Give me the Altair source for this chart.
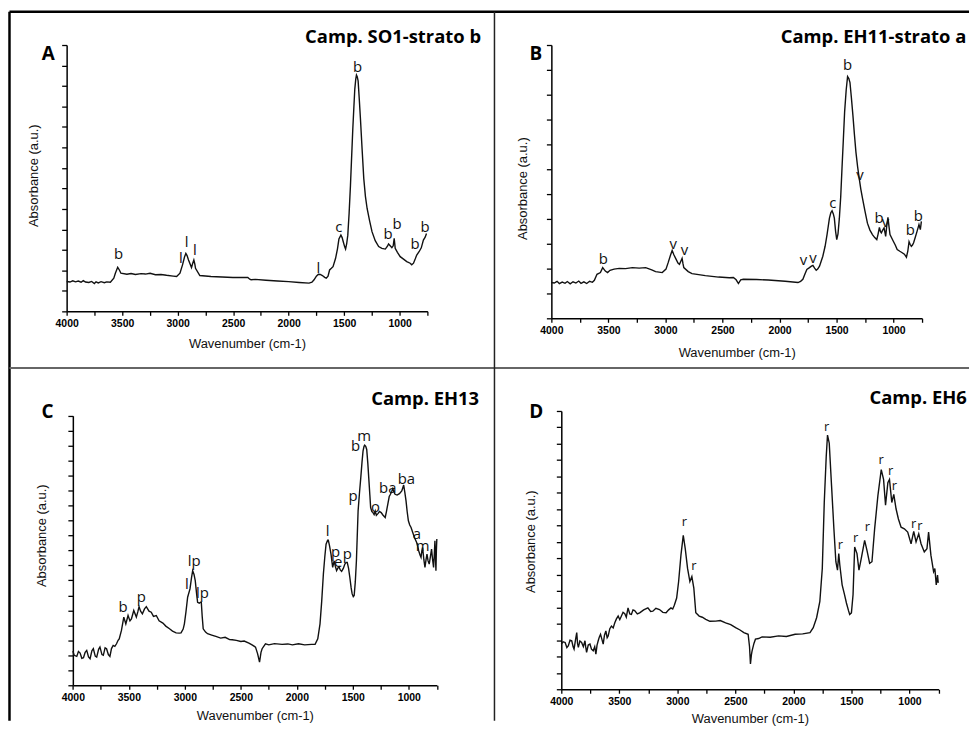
import altair as alt
import pandas as pd

# ---------------- data ----------------
XTICKS = [4000, 3750, 3500, 3250, 3000, 2750, 2500, 2250, 2000, 1750, 1500, 1250, 1000, 750]

A_wn = [4000,3970,3945,3920,3895,3870,3850,3830,3800,3775,3750,3735,3715,3690,3660,3640,3606,3575,3561,3540,3525,3511,3457,3420,3380,3330,3290,3248,3200,3150,3100,3040,3009,2979,2956,2938,2926,2915,2902,2875,2864,2854,2845,2839,2800,2700,2600,2502,2420,2368,2350,2338,2300,2204,2100,2000,1905,1816,1790,1771,1750,1732,1715,1696,1675,1661,1645,1631,1615,1600,1577,1560,1547,1529,1518,1508,1495,1487,1477,1467,1455,1443,1432,1422,1412,1404,1395,1389,1382,1374,1363,1353,1338,1323,1308,1293,1270,1249,1220,1189,1160,1129,1110,1100,1085,1070,1058,1049,1044,1040,1020,995,965,936,905,891,875,860,846,825,805,786,770,758]
A_ab = [1.46,1.43,1.49,1.44,1.48,1.42,1.50,1.43,1.41,1.46,1.36,1.44,1.39,1.45,1.40,1.44,1.42,1.62,1.86,2.15,2.02,1.86,1.81,1.85,1.80,1.84,1.82,1.86,1.79,1.80,1.76,1.72,1.70,1.86,2.27,2.65,2.83,2.72,2.51,2.14,2.35,2.51,2.30,2.10,1.75,1.70,1.68,1.65,1.66,1.65,1.57,1.54,1.56,1.52,1.48,1.45,1.41,1.38,1.42,1.54,1.72,1.81,1.80,1.75,1.66,1.62,1.72,2.02,2.10,2.18,2.59,3.05,3.53,3.72,3.60,3.40,3.15,3.04,3.30,3.72,4.80,6.15,7.60,8.90,10.0,10.85,11.35,11.53,11.45,11.25,10.30,9.39,7.90,6.48,5.60,5.02,4.40,3.89,3.45,3.16,3.07,3.04,3.18,3.29,3.20,3.11,3.20,3.56,3.30,3.08,2.88,2.67,2.55,2.43,2.35,2.27,2.35,2.55,2.75,2.91,3.10,3.48,3.62,3.80]
A_lab = ["b", "l", "l", "l", "l", "c", "b", "b", "b", "b", "b"]
A_lab_wn = [3532, 2971, 2920, 2845, 1732, 1547, 1380, 1105, 1023, 860, 771]
A_lab_y = [2.80, 2.59, 3.37, 3.00, 2.10, 4.10, 11.93, 3.77, 4.24, 3.27, 4.10]

B_wn = [4000,3975,3950,3930,3905,3880,3860,3835,3810,3785,3760,3740,3715,3690,3665,3640,3623,3600,3570,3550,3527,3507,3486,3450,3405,3350,3289,3230,3173,3120,3086,3028,2995,2976,2955,2941,2925,2906,2890,2877,2865,2854,2846,2839,2800,2767,2650,2534,2440,2404,2380,2360,2340,2317,2200,2099,1950,1838,1815,1795,1775,1760,1737,1720,1707,1692,1678,1665,1649,1620,1600,1583,1562,1550,1539,1528,1519,1508,1498,1487,1475,1463,1452,1440,1429,1415,1403,1392,1382,1370,1356,1343,1330,1315,1301,1287,1272,1250,1229,1207,1185,1165,1147,1135,1124,1115,1107,1095,1083,1075,1069,1060,1049,1040,1031,1002,985,968,945,924,905,887,875,864,855,844,834,824,810,794,777,765,756]
B_ab = [1.44,1.42,1.49,1.40,1.46,1.41,1.48,1.39,1.47,1.42,1.50,1.41,1.47,1.40,1.49,1.45,1.53,1.77,1.84,2.04,1.90,1.84,1.93,1.98,2.01,2.00,2.04,2.02,2.04,1.95,1.88,1.84,1.98,2.24,2.55,2.73,2.55,2.37,2.22,2.17,2.30,2.41,2.20,2.04,1.88,1.80,1.72,1.66,1.63,1.64,1.55,1.40,1.55,1.57,1.56,1.54,1.49,1.44,1.49,1.57,1.80,1.97,2.04,2.10,2.13,2.02,1.93,1.98,2.10,2.50,2.90,3.37,4.03,4.25,4.33,4.20,4.03,3.50,3.17,3.40,4.03,4.90,6.03,7.20,8.30,9.20,9.73,9.65,9.49,8.90,8.16,7.40,6.70,6.10,5.63,5.20,4.83,4.30,3.83,3.55,3.37,3.25,3.17,3.40,3.66,3.50,3.44,3.55,3.64,3.45,3.30,3.70,4.06,3.70,3.37,3.10,2.95,2.77,2.70,2.64,2.58,2.46,2.70,3.08,2.98,2.90,2.95,3.04,3.25,3.50,3.77,3.57,3.90]
B_lab = ["b", "v", "v", "v", "v", "c", "b", "v", "b", "v", "b", "b"]
B_lab_wn = [3544, 2932, 2833, 1789, 1707, 1533, 1403, 1295, 1128, 1070, 854, 783]
B_lab_y = [2.37, 3.00, 2.73, 2.33, 2.41, 4.63, 10.19, 5.77, 4.03, 3.87, 3.57, 4.13]

C_wn = [4000,3988,3965,3950,3935,3920,3905,3890,3876,3860,3846,3830,3817,3800,3787,3770,3758,3740,3728,3712,3699,3683,3669,3655,3640,3625,3610,3596,3586,3566,3545,3527,3507,3490,3477,3456,3433,3420,3409,3395,3379,3360,3344,3320,3300,3280,3255,3230,3196,3170,3137,3110,3078,3050,3034,3015,3004,2990,2975,2954,2940,2930,2918,2907,2895,2886,2871,2860,2853,2845,2836,2815,2797,2760,2723,2680,2640,2600,2576,2540,2500,2470,2428,2400,2369,2350,2333,2320,2310,2280,2250,2200,2132,2080,2040,1985,1930,1870,1837,1813,1793,1778,1763,1750,1739,1725,1719,1708,1695,1680,1667,1655,1645,1635,1624,1612,1600,1585,1571,1560,1550,1538,1527,1515,1506,1496,1488,1478,1468,1453,1440,1429,1418,1409,1400,1394,1385,1376,1366,1358,1348,1341,1330,1320,1310,1300,1290,1276,1262,1247,1230,1211,1200,1188,1175,1164,1152,1143,1133,1123,1105,1084,1063,1053,1046,1036,1025,1015,1004,992,980,965,950,940,930,921,912,900,891,884,877,866,856,846,838,828,818,807,797,788,779,772,767,762,758,754,750]
C_ab = [2.28,2.00,1.93,2.25,2.15,1.80,1.84,2.20,2.33,1.90,1.77,2.30,2.44,1.95,1.88,2.40,2.55,2.05,2.00,2.50,2.44,2.05,1.93,2.45,2.66,2.60,2.77,3.00,3.10,3.66,4.55,4.10,4.66,4.30,4.43,4.99,4.55,4.90,5.25,4.95,4.77,5.10,5.25,4.95,4.88,4.60,4.66,4.30,4.15,3.95,3.77,3.62,3.50,3.48,3.50,3.75,4.10,4.90,5.88,6.43,7.20,7.65,7.40,6.98,6.10,5.54,5.48,5.55,5.54,4.60,3.77,3.55,3.44,3.35,3.26,3.15,3.20,3.05,3.04,3.00,2.92,2.95,2.82,2.70,2.55,2.10,1.55,2.20,2.44,2.77,2.70,2.78,2.73,2.76,2.70,2.77,2.70,2.73,2.73,3.10,4.10,5.60,7.43,8.60,9.42,9.69,9.69,9.30,8.76,7.87,8.31,7.90,7.65,7.80,7.92,7.70,7.60,7.80,8.09,8.20,8.20,7.80,7.21,6.50,6.10,5.92,5.99,6.90,8.31,11.64,12.90,13.86,14.90,15.63,15.95,16.03,15.95,15.74,14.80,13.86,12.70,11.86,11.60,11.53,11.40,11.64,11.35,11.46,11.60,11.53,11.35,11.20,11.60,12.08,12.60,12.75,12.95,13.13,12.90,12.75,12.70,12.79,12.97,13.20,13.37,12.90,12.31,11.60,10.98,10.70,10.53,10.20,9.87,9.70,9.53,9.30,8.98,8.70,8.54,8.95,9.20,8.40,7.87,8.40,8.76,8.30,8.09,8.60,9.09,8.40,7.87,8.80,9.65,8.50,7.65,9.00,9.76]
C_lab = ["b", "p", "l", "lp", "lp", "l", "p", "e", "p", "p", "b", "m", "o", "ba", "ba", "a", "m"]
C_lab_wn = [3551, 3388, 2981, 2916, 2842, 1725, 1654, 1630, 1550, 1497, 1476, 1400, 1297, 1188, 1022, 927, 877]
C_lab_y = [5.25, 5.92, 6.76, 8.27, 6.14, 10.31, 8.87, 8.20, 8.76, 12.64, 15.96, 16.63, 11.91, 13.19, 13.79, 10.09, 9.31]

D_wn = [4000,3985,3967,3952,3939,3925,3910,3898,3890,3878,3867,3860,3853,3840,3825,3810,3796,3790,3782,3768,3753,3740,3725,3712,3702,3692,3682,3672,3662,3650,3639,3628,3616,3605,3596,3582,3568,3553,3539,3525,3510,3496,3482,3468,3453,3440,3425,3410,3396,3382,3368,3345,3325,3290,3254,3230,3211,3185,3154,3125,3097,3075,3055,3040,3026,3006,2989,2969,2949,2932,2912,2892,2875,2858,2841,2812,2785,2755,2720,2669,2630,2584,2540,2498,2460,2427,2390,2378,2370,2362,2356,2340,2327,2300,2270,2200,2128,2060,1985,1920,1857,1829,1800,1772,1751,1734,1717,1706,1691,1671,1651,1634,1620,1609,1600,1580,1560,1543,1525,1515,1500,1486,1472,1452,1435,1415,1386,1366,1343,1323,1300,1272,1243,1223,1206,1186,1172,1152,1135,1115,1095,1072,1044,1015,986,963,943,920,900,872,849,835,815,792,781,769,758,752]
D_ab = [2.76,2.90,2.86,2.55,2.66,3.00,2.96,2.60,2.45,3.00,3.46,2.80,2.56,2.95,2.86,2.60,2.96,2.60,2.25,2.70,2.76,2.45,2.35,2.60,2.15,2.70,2.96,3.20,3.36,3.05,2.76,3.30,3.56,3.15,3.26,3.70,3.86,3.75,4.06,4.30,4.47,4.25,4.47,4.70,4.61,4.40,4.97,4.60,4.57,4.85,4.81,4.60,4.67,4.85,4.97,4.75,4.77,4.95,4.87,4.70,4.67,4.85,4.97,4.90,5.13,5.57,6.58,8.19,9.40,8.59,7.38,6.58,6.88,6.18,4.67,4.47,4.40,4.27,4.15,4.16,4.20,4.06,3.95,3.76,3.62,3.46,3.36,2.60,1.55,2.10,2.35,2.80,3.06,3.10,3.20,3.18,3.26,3.22,3.36,3.38,3.46,3.76,4.37,5.37,7.38,11.41,14.23,15.53,15.03,12.41,9.80,7.79,7.28,8.29,7.59,6.38,5.80,5.27,4.80,4.57,4.67,5.77,8.69,8.29,7.28,7.99,9.09,8.49,7.69,7.79,9.80,11.81,13.42,12.82,11.25,12.62,12.82,11.41,11.91,11.01,10.40,9.90,9.80,9.60,8.89,9.64,9.00,9.50,8.89,8.39,8.59,9.60,8.19,7.18,7.38,6.38,6.98,6.50]
D_lab = ["r", "r", "r", "r", "r", "r", "r", "r", "r", "r", "r"]
D_lab_wn = [2940, 2858, 1714, 1594, 1463, 1363, 1243, 1163, 1129, 963, 909]
D_lab_y = [10.24, 7.53, 16.0, 8.79, 9.24, 9.90, 13.98, 13.32, 12.41, 10.10, 10.0]

TITLES = ["Camp. SO1-strato b", "Camp. EH11-strato a", "Camp. EH13", "Camp. EH6"]
LETTERS = ["A", "B", "C", "D"]

AXFONT = "Liberation Sans"
LABFONT = "Open Sans"
ONE = pd.DataFrame({"k": [0]})


def panel(wn, ab, ltxt, lwn, ly, ymax, w, h, xr, yr, yoff,
          ytp, yty, xtp, labsize, letter, letpos, title, titlepos, extra=None):
    xs = alt.Scale(domain=[4000, 750], range=xr, nice=False, zero=False)
    ys = alt.Scale(domain=[0, ymax], range=yr, nice=False, zero=False)
    xax = alt.Axis(values=XTICKS, tickCount=60, format="d",
                   labelExpr="datum.value % 500 === 0 ? datum.label : ''",
                   labelFont=AXFONT, labelFontWeight="bold", labelFontSize=10.5,
                   labelColor="#000", labelPadding=3, labelFlush=False, labelOverlap=False,
                   tickSize=4, tickWidth=1.3, tickColor="#000", domainColor="#000",
                   domainWidth=1.5, grid=False, title="Wavenumber (cm-1)", titleFont=AXFONT,
                   titleFontSize=13, titleFontWeight="normal", titleColor="#111",
                   titlePadding=xtp)
    yax = alt.Axis(values=list(range(0, ymax + 1)), tickCount=60, labels=False, tickSize=5,
                   tickWidth=1.3, tickColor="#000", domainColor="#000", domainWidth=1.5,
                   grid=False, offset=yoff, title="Absorbance (a.u.)", titleFont=AXFONT,
                   titleFontSize=13, titleFontWeight="normal", titleColor="#111",
                   titlePadding=ytp, titleY=yty)
    df = pd.DataFrame({"wn": wn, "ab": ab})
    line = alt.Chart(df).mark_line(color="#111", strokeWidth=1.4).encode(
        x=alt.X("wn:Q", scale=xs, axis=xax),
        y=alt.Y("ab:Q", scale=ys, axis=yax))
    ldf = pd.DataFrame({"t": ltxt, "wn": lwn, "ab": ly})
    labs = alt.Chart(ldf).mark_text(font=LABFONT, fontSize=labsize, color="#111",
                                    baseline="middle", align="center").encode(
        x=alt.X("wn:Q", scale=xs), y=alt.Y("ab:Q", scale=ys), text="t:N")
    let = alt.Chart(ONE).mark_text(text=letter, font=LABFONT, fontSize=19,
                                   fontWeight="bold", color="#000", align="center",
                                   baseline="alphabetic").encode(
        x=alt.value(letpos[0]), y=alt.value(letpos[1]))
    tit = alt.Chart(ONE).mark_text(text=title, font=LABFONT, fontSize=18.5,
                                   fontWeight="bold", color="#000", align="right",
                                   baseline="alphabetic").encode(
        x=alt.value(titlepos[0]), y=alt.value(titlepos[1]))
    layers = [line, labs, let, tit]
    if extra:
        layers += extra
    return alt.layer(*layers).properties(width=w, height=h)


# frame lines (page-level decoration) drawn in panel A's coordinates
frame = [
    alt.Chart(ONE).mark_rule(color="#000", strokeWidth=2.5).encode(
        x=alt.value(-57.5), x2=alt.value(908), y=alt.value(-33.5)),
    alt.Chart(ONE).mark_rule(color="#000", strokeWidth=2.5).encode(
        x=alt.value(-57.5), y=alt.value(-33.5), y2=alt.value(680)),
    alt.Chart(ONE).mark_rule(color="#666", strokeWidth=2).encode(
        x=alt.value(-57.5), x2=alt.value(908), y=alt.value(325)),
    alt.Chart(ONE).mark_rule(color="#222", strokeWidth=1.5).encode(
        x=alt.value(430.5), y=alt.value(-33.5), y2=alt.value(680)),
]

pA = panel(A_wn, A_ab, A_lab, A_lab_wn, A_lab_y, 13, 363, 268, [0, 363], [268, 0], 0,
           21, 131, 9, 15, LETTERS[0], (-18.5, 15.5), TITLES[0], (417, -2), extra=frame)
pB = panel(B_wn, B_ab, B_lab, B_lab_wn, B_lab_y, 11, 373, 275, [0, 373], [275, 0], 0,
           16, 144, 11, 15, LETTERS[1], (-15.7, 15.5), TITLES[1], (417.5, -2))
pC = panel(C_wn, C_ab, C_lab, C_lab_wn, C_lab_y, 18, 372.5, 276, [6.25, 372.5], [276, 4.7], -6.25,
           19, 125, 7, 15, LETTERS[2], (-19.25, 7), TITLES[2], (415, -6.3))
pD = panel(D_wn, D_ab, D_lab, D_lab_wn, D_lab_y, 17, 389.5, 280, [10, 389.5], [280, 0], -10,
           18, 131, 6, 13, LETTERS[3], (-15.3, 7), TITLES[3], (418, -7))

chart = alt.concat(pA, pB, pC, pD, columns=2, align="each", bounds="flush",
                   spacing={"row": 93.25, "column": 114.75}).properties(
    padding=0).configure_view(stroke=None)

chart.save("out.html", embed_options={"renderer": "svg", "actions": False})
